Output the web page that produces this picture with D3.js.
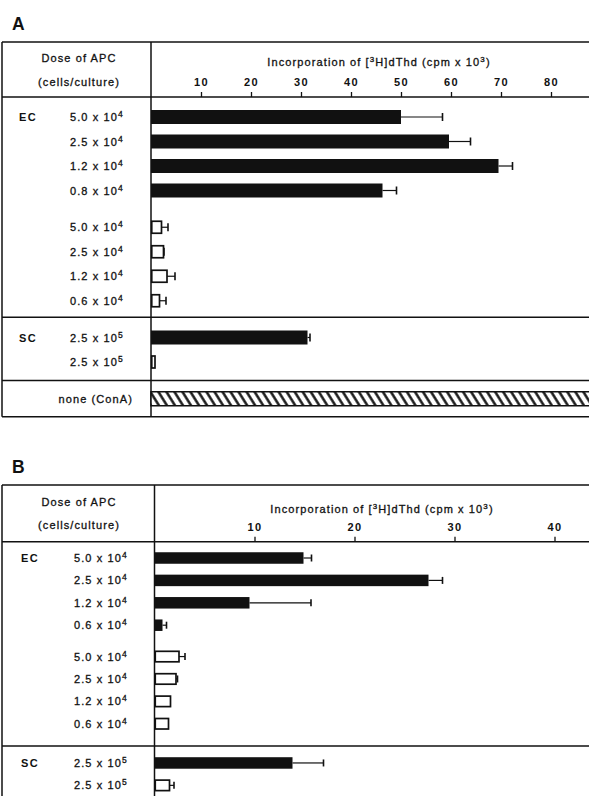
<!DOCTYPE html>
<html><head><meta charset="utf-8">
<script src="https://cdn.jsdelivr.net/npm/d3@7"></script>
<style>
body{margin:0;background:#fff}
svg{display:block}
text{font-family:"Liberation Sans",Arial,Helvetica,sans-serif;fill:#111}
</style>
</head><body>
<svg id="c" width="589" height="796"></svg>
<script>
// ---------- data ----------
const cellType   = ["EC","EC","EC","EC","EC","EC","EC","EC","SC","SC"];
const barStyle   = ["filled","filled","filled","filled","open","open","open","open","filled","open"];
const doseA      = ["5.0","2.5","1.2","0.8","5.0","2.5","1.2","0.6","2.5","2.5"];
const doseB      = ["5.0","2.5","1.2","0.6","5.0","2.5","1.2","0.6","2.5","2.5"];
const doseExp    = ["4","4","4","4","4","4","4","4","5","5"];
// cpm x 10^3 (mean and upper end of error bar)
const meanA      = [50.0, 59.6, 69.5, 46.3, 2.1, 2.5, 3.2, 1.7, 31.3, 0.8];
const upperA     = [58.3, 63.9, 72.3, 49.1, 3.4, 2.6, 4.8, 3.0, 31.8, 0.8];
const meanB      = [14.9, 27.4, 9.5, 0.8, 2.45, 2.15, 1.6, 1.4, 13.8, 1.5];
const upperB     = [15.7, 28.8, 15.65, 1.2, 3.05, 2.3, 1.6, 1.4, 16.9, 1.95];
const conALabel  = "none (ConA)";
const conAValueA = 100;   // off scale
const ticksA     = [10,20,30,40,50,60,70,80];
const ticksB     = [10,20,30,40];

// ---------- layout ----------
const W = 589;
const svg = d3.select("#c");
const defs = svg.append("defs");
const pat = defs.append("pattern").attr("id","hatch").attr("patternUnits","userSpaceOnUse")
  .attr("width",6.8).attr("height",20).attr("patternTransform","rotate(-32)");
pat.append("rect").attr("width",6.8).attr("height",20).attr("fill","#fff");
pat.append("line").attr("x1",1.5).attr("x2",1.5).attr("y1",0).attr("y2",20)
  .attr("stroke","#111").attr("stroke-width",2.4);

const panels = [
  {letter:"A", letterY:30, top:42, header:97, titleX:379, titleY:65.5, dose1:62, dose2:85.5,
   tickOff:11.5, x0:151, xMax:87.6, rowBase:117, rowStep:24.5, openGap:0.5, scGap:0.5,
   dividers:[8.17,10.76], bottom:12.23, labelX:70, groupX:19, barH:14, openH:12, capH:8,
   dose:doseA, mean:meanA, upper:upperA, ticks:ticksA, conA:true},
  {letter:"B", letterY:473, top:485, header:541.7, titleX:382, titleY:513, dose1:505.5, dose2:529,
   tickOff:10.7, x0:154.5, xMax:43.45, rowBase:558, rowStep:22.4, openGap:0.4, scGap:0.75,
   dividers:[8.39], bottom:null, labelX:74, groupX:21, barH:11.5, openH:10.5, capH:7,
   dose:doseB, mean:meanB, upper:upperB, ticks:ticksB, conA:false}
];

panels.forEach(p => {
  const g = svg.append("g");
  const x = d3.scaleLinear().domain([0,p.xMax]).range([p.x0,W]);
  const slot = i => i + (i>=4?p.openGap:0) + (i>=8?p.scGap:0);
  const y = d3.scaleLinear().domain([0,1]).range([p.rowBase,p.rowBase+p.rowStep]);
  const bottomY = p.bottom==null ? 800 : y(p.bottom);

  // panel letter
  g.append("text").attr("x",12).attr("y",p.letterY).attr("font-size",17.5)
    .attr("font-weight","bold").text(p.letter);

  // box lines
  const ln = (x1,y1,x2,y2) => g.append("line").attr("x1",x1).attr("y1",y1).attr("x2",x2).attr("y2",y2)
      .attr("stroke","#111").attr("stroke-width",1.5);
  ln(2,p.top,W,p.top);
  ln(2,p.top,2,bottomY);
  ln(p.x0,p.top,p.x0,bottomY);
  ln(2,p.header,W,p.header);
  p.dividers.forEach(d => ln(2,y(d),W,y(d)));
  if (p.bottom!=null) ln(2,bottomY,W,bottomY);

  // header texts
  const txt = {"font-size":11,"letter-spacing":1.1,"stroke":"#111","stroke-width":0.3};
  const T = (sel) => { Object.entries(txt).forEach(([k,v])=>sel.attr(k,v)); return sel; };
  T(g.append("text")).attr("x",79).attr("y",p.dose1).attr("text-anchor","middle").text("Dose of APC");
  T(g.append("text")).attr("x",79).attr("y",p.dose2).attr("text-anchor","middle").text("(cells/culture)");
  const tt = T(g.append("text")).attr("x",p.titleX).attr("y",p.titleY).attr("text-anchor","middle");
  tt.append("tspan").text("Incorporation of [");
  tt.append("tspan").attr("font-size",8).attr("dy",-4).text("3");
  tt.append("tspan").attr("dy",4).text("H]dThd (cpm x 10");
  tt.append("tspan").attr("font-size",8).attr("dy",-4).text("3");
  tt.append("tspan").attr("dy",4).text(")");

  // axis
  const ax = g.append("g").attr("transform",`translate(0,${p.header})`)
    .call(d3.axisTop(x).tickValues(p.ticks).tickSize(5).tickPadding(p.tickOff-5).tickFormat(d3.format("d")));
  ax.select(".domain").remove();
  ax.selectAll(".tick line").attr("stroke","#111").attr("stroke-width",1.3);
  ax.selectAll(".tick text").attr("font-size",11).attr("font-weight","bold").attr("fill","#111")
    .attr("letter-spacing",1.4).attr("font-family","Liberation Sans, Arial, sans-serif").attr("dy",0);

  // row labels
  cellType.forEach((c,i) => {
    const cy = y(slot(i));
    if (i===0 || cellType[i-1]!==c) {
      g.append("text").attr("x",p.groupX).attr("y",cy+4).attr("font-size",11)
        .attr("font-weight","bold").attr("letter-spacing",1.5).text(c);
    }
    const t = T(g.append("text")).attr("x",p.labelX).attr("y",cy+4);
    t.append("tspan").text(p.dose[i] + " x 10");
    t.append("tspan").attr("font-size",8.5).attr("dy",-4).text(doseExp[i]);
  });

  // bars
  cellType.forEach((c,i) => {
    const cy = y(slot(i));
    const filled = barStyle[i]==="filled";
    const h = filled ? p.barH : p.openH;
    // error bar
    if (p.upper[i] > p.mean[i] + 0.05) {
      g.append("line").attr("x1",x(p.mean[i])).attr("x2",x(p.upper[i])).attr("y1",cy).attr("y2",cy)
        .attr("stroke","#111").attr("stroke-width",1.2);
      g.append("line").attr("x1",x(p.upper[i])).attr("x2",x(p.upper[i]))
        .attr("y1",cy-p.capH/2).attr("y2",cy+p.capH/2).attr("stroke","#111").attr("stroke-width",1.6);
    }
    if (filled) {
      g.append("rect").attr("x",x(0)).attr("y",cy-h/2).attr("width",x(p.mean[i])-x(0)).attr("height",h)
        .attr("fill","#111");
    } else {
      g.append("rect").attr("x",x(0)+0.75).attr("y",cy-h/2).attr("width",Math.max(1,x(p.mean[i])-x(0)-0.75))
        .attr("height",h).attr("fill","#fff").attr("stroke","#111").attr("stroke-width",1.7);
    }
  });

  // ConA row
  if (p.conA) {
    const cy = y(11.5);
    T(g.append("text")).attr("x",133).attr("y",cy+4).attr("text-anchor","end").text(conALabel);
    const xe = Math.min(x(conAValueA), W+5);
    g.append("rect").attr("x",x(0)).attr("y",cy-7).attr("width",xe-x(0)).attr("height",14)
      .attr("fill","url(#hatch)").attr("stroke","#111").attr("stroke-width",1.5);
  }
});
</script>
</body></html>
